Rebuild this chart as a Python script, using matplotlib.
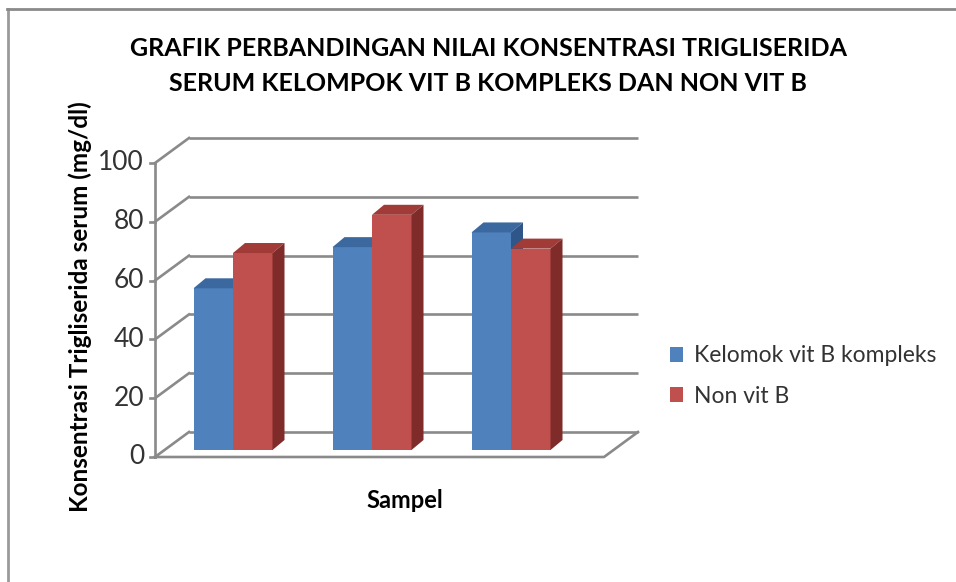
import matplotlib
matplotlib.use("Agg")
import matplotlib.pyplot as plt
from matplotlib.patches import Polygon, Patch
from matplotlib.lines import Line2D

# ---------------- data ----------------
categories = ["1", "2", "3"]
series_names = ["Kelomok vit B kompleks", "Non vit B"]
vit_b = [55, 69, 74]
non_vit_b = [67, 80, 68.5]
y_ticks = [0, 20, 40, 60, 80, 100]

title = "GRAFIK PERBANDINGAN NILAI KONSENTRASI TRIGLISERIDA\nSERUM KELOMPOK VIT B KOMPLEKS DAN NON VIT B"
y_label = "Konsentrasi Trigliserida serum (mg/dl)"
x_label = "Sampel"

# ---------------- style ----------------
FONT = ["Lato", "DejaVu Sans"]
plt.rcParams["font.family"] = FONT
front_cols = ["#4F81BD", "#C0504D"]
top_cols = ["#3C68A0", "#A13B38"]
side_cols = ["#2F5688", "#7E2B29"]
grid_col = "#8A8A8A"
text_col = "#333333"

W, H = 956, 582
fig = plt.figure(figsize=(W / 100, H / 100), dpi=100)
ax = fig.add_axes([0, 0, 1, 1])
ax.axis("off")

# pixel -> data mapping layout constants
PXC = 139.0   # pixels per category
PXU = 2.94    # pixels per value unit
X0P, Y0P = 233.0, 457.0
ax.set_xlim((0 - X0P) / PXC, (W - X0P) / PXC)
ax.set_ylim((Y0P - H) / PXU, (Y0P - 0) / PXU)

def px(x):
    return (x - X0P) / PXC

AX_X = px(155)          # front vertical axis
FLOOR_R = px(604)       # floor front right edge
DX, DY = 34 / PXC, 25 / PXU        # wall depth
BDX, BDY = 12 / PXC, 10 / PXU      # bar depth
BAR_Y0 = 7 / PXU                   # bar base offset
BW = 39.5 / PXC                    # bar width
ymax = y_ticks[-1]

lw = 1.9
# back wall gridlines + left wall diagonals
for t in y_ticks:
    ax.plot([AX_X + DX, FLOOR_R + DX], [t + DY, t + DY], color=grid_col, lw=lw, zorder=1,
            solid_capstyle="butt")
    ax.plot([AX_X, AX_X + DX], [t, t + DY], color=grid_col, lw=lw, zorder=1)
    ax.plot([AX_X - 5 / PXC, AX_X], [t, t], color=grid_col, lw=lw, zorder=1)
    ax.text(AX_X - 11 / PXC, t, f"{t:g}", ha="right", va="center", fontsize=19,
            color=text_col)
# front axis and floor
ax.plot([AX_X, AX_X], [0, ymax], color=grid_col, lw=lw, zorder=1)
ax.plot([AX_X, FLOOR_R, FLOOR_R + DX], [0, 0, DY], color=grid_col, lw=lw, zorder=1)

# bars
series = [vit_b, non_vit_b]
for i, _ in enumerate(categories):
    for s, vals in enumerate(series):
        v = vals[i]
        x0 = i - BW + s * BW
        x1 = x0 + BW
        y0 = BAR_Y0
        y1 = BAR_Y0 + v
        ax.bar(x0, v, width=BW, bottom=y0, align="edge", color=front_cols[s],
               linewidth=0, zorder=3)
        ax.add_patch(Polygon([(x0, y1), (x1, y1), (x1 + BDX, y1 + BDY), (x0 + BDX, y1 + BDY)],
                             closed=True, facecolor=top_cols[s], lw=0, zorder=3))
        ax.add_patch(Polygon([(x1, y0), (x1 + BDX, y0 + BDY), (x1 + BDX, y1 + BDY), (x1, y1)],
                             closed=True, facecolor=side_cols[s], lw=0, zorder=3))

# texts
fig.text(488 / W, 1 - 66 / H, title, ha="center", va="center", fontsize=18,
         fontweight="bold", color="black", linespacing=1.6)
fig.text(80 / W, 1 - 307 / H, y_label, ha="center", va="center", rotation=90,
         fontsize=17.5, fontweight="bold", color="black")
fig.text(405 / W, 1 - 500 / H, x_label, ha="center", va="center", fontsize=17,
         fontweight="bold", color="black")

handles = [Patch(facecolor=c, edgecolor="none") for c in front_cols]
fig.legend(handles, series_names, loc="center left", bbox_to_anchor=(649 / W, 1 - 376 / H),
           frameon=False, fontsize=16.5, handlelength=0.6, handleheight=0.65,
           handletextpad=0.45, labelspacing=0.85, labelcolor=text_col)

# outer frame (top and left)
fig.add_artist(Line2D([8 / W, 8 / W], [0, 1 - 9 / H], color="#9A9A9A", lw=2,
                      transform=fig.transFigure))
fig.add_artist(Line2D([7 / W, 1], [1 - 9 / H, 1 - 9 / H], color="#8A8A8A", lw=2,
                      transform=fig.transFigure))

fig.savefig("out.png", dpi=100, facecolor="white")
